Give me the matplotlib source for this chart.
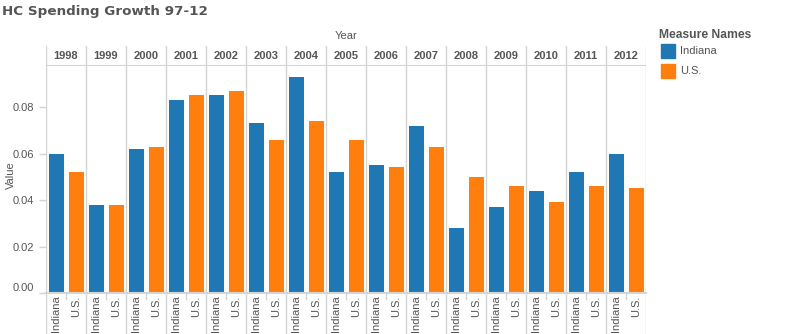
import matplotlib
matplotlib.use("Agg")
import matplotlib.pyplot as plt
import matplotlib.transforms as mtransforms
import numpy as np

years = ["1998", "1999", "2000", "2001", "2002", "2003", "2004", "2005",
         "2006", "2007", "2008", "2009", "2010", "2011", "2012"]
measures = ["Indiana", "U.S."]
indiana = [0.060, 0.038, 0.062, 0.083, 0.085, 0.073, 0.093, 0.052,
           0.055, 0.072, 0.028, 0.037, 0.044, 0.052, 0.060]
us = [0.052, 0.038, 0.063, 0.085, 0.087, 0.066, 0.074, 0.066,
      0.054, 0.063, 0.050, 0.046, 0.039, 0.046, 0.045]
yticks = [0.00, 0.02, 0.04, 0.06, 0.08]

blue = "#1f77b4"
orange = "#ff7f0e"
grid = "#d4d4d4"
txt = "#555555"
plt.rcParams['font.family'] = ['Liberation Sans', 'DejaVu Sans']

W, H = 798, 334
fig = plt.figure(figsize=(W / 100, H / 100), dpi=100)

def fx(p):
    return p / W

def fy(p):
    return 1 - p / H

left, right = 46, 646
head_top, plot_top, plot_bot = 46, 66, 293.3
n = len(years)
xlim = (-0.5, 2 * n - 0.5)
seps = [2 * i - 0.5 for i in range(n + 1)]

# main plot
ax = fig.add_axes([fx(left), fy(plot_bot), fx(right - left), (plot_bot - plot_top) / H])
xi = np.arange(n) * 2
ax.bar(xi, indiana, width=0.75, color=blue)
ax.bar(xi + 1, us, width=0.75, color=orange)
ax.set_xlim(*xlim)
ax.set_ylim(0, (plot_bot - plot_top) / 2330)
for s in seps:
    ax.axvline(s, color=grid, lw=1)
for sp in ax.spines.values():
    sp.set_visible(False)
ax.axhline(0, color=grid, lw=1.5, clip_on=False)
ax.set_yticks(yticks)
ax.set_yticklabels([f"{v:.2f}" for v in yticks])
ax.tick_params(axis='y', colors=grid, labelcolor=txt, labelsize=8, length=5, width=1)
ax.set_xticks([])
fig.canvas.draw()
lab0 = ax.get_yticklabels()[0]
lab0.set_transform(lab0.get_transform() + mtransforms.ScaledTranslation(0, 6 / 100, fig.dpi_scale_trans))
ax.set_ylabel("Value", color=txt, fontsize=8)
ax.yaxis.set_label_coords(-30 / (right - left), 0.52)

# header
hx = fig.add_axes([fx(left), fy(plot_top), fx(right - left), (plot_top - head_top) / H])
hx.set_xlim(*xlim)
hx.set_ylim(0, 1)
hx.axis('off')
for s in seps:
    hx.axvline(s, color=grid, lw=1)
hx.axhline(0, color=grid, lw=1.5)
for i, y in enumerate(years):
    hx.text(2 * i + 0.5, 0.5, y, ha='center', va='center', fontsize=8,
            fontweight='bold', color=txt)

# bottom labels
bx = fig.add_axes([fx(left), 0, fx(right - left), (H - plot_bot) / H])
bx.set_xlim(*xlim)
bx.set_ylim(0, 1)
bx.axis('off')
for s in seps:
    bx.axvline(s, color=grid, lw=1)
for i in range(n):
    bx.plot([2 * i + 0.5] * 2, [1, 0.85], color=grid, lw=1)
    for j, m in enumerate(measures):
        bx.text(2 * i + j, 0.95, m, rotation=90, ha='center', va='top',
                fontsize=8, color=txt, clip_on=True)

# titles
fig.text(fx(2), fy(12), "HC Spending Growth 97-12", ha='left', va='center',
         fontsize=9.7, fontweight='bold', color=txt, family=['DejaVu Sans'])
fig.text(fx(346), fy(36), "Year", ha='center', va='center', fontsize=8, color=txt)

# legend
fig.text(fx(659), fy(35), "Measure Names", ha='left', va='center', fontsize=8.7,
         fontweight='bold', color=txt)
for k, (m, c) in enumerate(zip(measures, [blue, orange])):
    yc = 51 + 20 * k
    fig.patches.append(plt.Rectangle((fx(661), fy(yc + 7)), fx(14), 14 / H,
                                     color=c, transform=fig.transFigure))
    fig.text(fx(680), fy(yc), m, ha='left', va='center', fontsize=8, color=txt)

fig.savefig("out.png", dpi=100, facecolor='white')
